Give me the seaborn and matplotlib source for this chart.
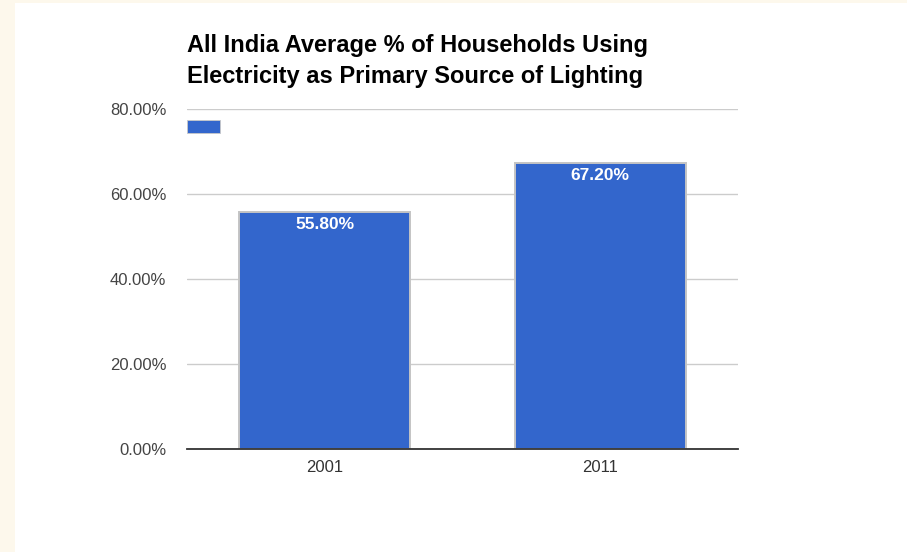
import matplotlib
matplotlib.use("Agg")
import matplotlib.pyplot as plt
import seaborn as sns
import pandas as pd
from matplotlib.patches import Patch, Rectangle

years = ["2001", "2011"]
values = [55.80, 67.20]
y_ticks = [0, 20, 40, 60, 80]
title_lines = ["All India Average % of Households Using",
               "Electricity as Primary Source of Lighting"]

sns.set_style("white")
plt.rcParams['font.family'] = ['Liberation Sans', 'DejaVu Sans']

W, H = 907, 552
fig = plt.figure(figsize=(W / 100, H / 100), dpi=100, facecolor="#fdf8ec")
# white card
fig.patches.append(Rectangle((15 / W, 0), 1 - 15 / W, (H - 3) / H,
                             transform=fig.transFigure, facecolor="white",
                             edgecolor="none", zorder=-5))

ax = fig.add_axes([187 / W, (H - 449) / H, (738 - 187) / W, (449 - 109) / H])
ax.set_facecolor("none")

df = pd.DataFrame({"year": years, "value": values})
sns.barplot(data=df, x="year", y="value", ax=ax, color="#3366cc",
            saturation=1, width=0.62, edgecolor="#c4c4c4", linewidth=1.4,
            zorder=3)

ax.set_ylim(0, 80)
ax.set_yticks(y_ticks)
ax.set_yticklabels([f"{v:.2f}%" for v in y_ticks], color="#444444", fontsize=12)
ax.tick_params(axis="y", length=0, pad=15)
ax.tick_params(axis="x", length=0, pad=8, labelsize=12, labelcolor="#333333")
ax.yaxis.grid(True, color="#cccccc", linewidth=1)
ax.set_axisbelow(True)
for s in ["top", "right", "left"]:
    ax.spines[s].set_visible(False)
ax.spines["bottom"].set_color("#333333")
ax.spines["bottom"].set_linewidth(1.3)
ax.spines["bottom"].set_zorder(5)
ax.set_xlabel("")
ax.set_ylabel("")

for i, v in enumerate(values):
    ax.annotate(f"{v:.2f}%", xy=(i, v), xytext=(0, -3.5), textcoords="offset points",
                ha="center", va="top", color="white", fontsize=12.5,
                fontweight="bold", zorder=6)

leg = ax.legend(handles=[Patch(facecolor="#3366cc", edgecolor="#c8c8c8", linewidth=0.6)],
                labels=[""], loc="upper left", bbox_to_anchor=(0, 1 - 11 / 340),
                frameon=False, borderpad=0, borderaxespad=0, handlelength=2.4,
                handleheight=1.1, handletextpad=0, fontsize=10)

fig.text(187 / W, 1 - 52 / H, title_lines[0], fontsize=17, fontweight="bold",
         color="black", ha="left", va="baseline")
fig.text(187 / W, 1 - 83 / H, title_lines[1], fontsize=17, fontweight="bold",
         color="black", ha="left", va="baseline")

fig.savefig("out.png", dpi=100, facecolor=fig.get_facecolor())
